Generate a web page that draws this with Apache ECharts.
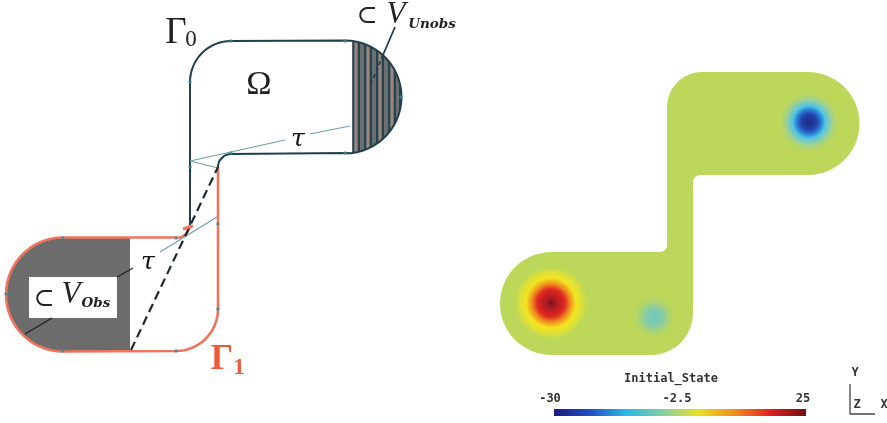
<!DOCTYPE html>
<html><head><meta charset="utf-8">
<style>html,body{margin:0;padding:0;background:#fff}#c{width:887px;height:423px;filter:blur(.6px)}</style>
<script src="https://cdn.jsdelivr.net/npm/echarts@6/dist/echarts.min.js"></script>
</head><body><div id="c"></div>
<script>
// ---------- data (picture units) ----------
const hatchDarkX = [353,359,365,371,377,383,389,395,400];
const hatchPaleX = [356,368,380,392];
const hatchCentre = [345,97], hatchR = 56.5;
const leftCentre = [63,294.5], leftR = 57;
const rightFieldCentre = [808,123.5], fieldR = 51.5;
const fieldLowCentre = [551.5,303.5];
const nodes = [[190,82],[231,41],[345,41],[401,97],[345,153],[231,153],[190,167],[218,224],[218,309],[176,351],[63,351],[6,294],[63,238],[176,238]];
const dashed = [[131,350],[218,167]];
const thinLines = [[[190,161],[285,140]],[[310,134],[350,126]],[[190,161],[218,168]],[[160,252],[217,217]]];
const blackLines = [[[117,277],[133,268]],[[25,334],[52,318]]];
const redMark = [[183,229],[193,226]];
const unobsLeader = [[395,27],[383,55]];
const unobsLeaderDash = [[383,55],[372,82]];
const triad = [[850,384],[850,414],[875,414]];
const obsBox = [[29,277],[117,277],[117,318],[29,318]];
const blobs = [
  {name:'hot', c:[551,303], r:38},
  {name:'mild', c:[654,317], r:23},
  {name:'cold', c:[809,122], r:31}
];
const colourBarExtent = [[554,409],[806,416]];
const colourBarStops = ['#1a1a80','#2050c0','#28b8e8','#80cfa8','#e8e020','#f09020','#e02020','#701010'];
const colourBarTicks = [[550,399,'-30'],[677,399,'-2.5'],[803,399,'25']];
const texts = [
  ['gamma',176,33,'Γ'],['sub',191,40,'0'],['omega',259,85,'Ω'],['tau',298,139,'τ'],['tau',148,262,'τ'],
  ['sub2',367,16,'⊂'],['vee',396,15,'V'],['low',432,24,'Unobs'],
  ['sub2',44,299,'⊂'],['vee',71,295,'V'],['low',96,303,'Obs'],
  ['red',222,360,'Γ'],['redsub',239,368,'1'],
  ['mono',671,379,'Initial_State'],['mono',855,373,'Y'],['mono',857,405,'Z'],['mono',884,405,'X']
];
// ---------- helpers ----------
const arc=(c,r,a0,a1,n=30)=>Array.from({length:n+1},(_,i)=>{const a=(a0+(a1-a0)*i/n)*Math.PI/180;return [c[0]+r*Math.cos(a),c[1]+r*Math.sin(a)];});
const DARK='#1f3f4a', RED='#f0745c', TEAL='#2f8f9f', GREEN='#bcd75a', GREY='#6c6c6c';
const textStyles={
  gamma:{fontFamily:'Liberation Serif',fontSize:37,fill:'#222'},
  sub:{fontFamily:'Liberation Serif',fontSize:23,fill:'#222'},
  omega:{fontFamily:'Liberation Serif',fontSize:34,fill:'#222'},
  tau:{fontFamily:'DejaVu Serif',fontStyle:'italic',fontSize:25,fill:'#111'},
  sub2:{fontFamily:'DejaVu Serif',fontSize:25,fill:'#222'},
  vee:{fontFamily:'Liberation Serif',fontStyle:'italic',fontSize:31,fill:'#222'},
  low:{fontFamily:'DejaVu Serif',fontStyle:'italic',fontWeight:'bold',fontSize:13.5,fill:'#222'},
  red:{fontFamily:'Liberation Serif',fontWeight:'bold',fontSize:35,fill:'#ee5a3e'},
  redsub:{fontFamily:'Liberation Serif',fontWeight:'bold',fontSize:23,fill:'#ee5a3e'},
  mono:{fontFamily:'DejaVu Sans Mono',fontSize:12,fontWeight:'bold',fill:'#333'}
};
const blobStops={
  hot:[[0,'#74141a'],[.14,'#b01a20'],[.36,'#e02822'],[.5,'#f08a20'],[.66,'#f2e420'],[.84,'#d8e03c'],[1,'rgba(188,215,90,0)']],
  mild:[[0,'#70c8b8'],[.4,'#88cca8'],[1,'rgba(188,215,90,0)']],
  cold:[[0,'#1c2a80'],[.26,'#2344ac'],[.42,'#2a8cdc'],[.52,'#50c4e4'],[.72,'#98d09c'],[1,'rgba(188,215,90,0)']]
};
// ---------- outlines ----------
const darkPath=[...arc([231,167],13,180,270,8),[345,153],...arc([345,97],56.5,90,-90),[231,41],...arc([231,82],41,270,180,16),[190,225]];
const redPath=[[218,167],[218,309],...arc([176,309],42,0,90,16),[63,351.5],...arc(leftCentre,leftR,90,270),[176,237.5],...arc([176,224],14,90,0,8)];
const leftFill=[[130,351.5],[63,351.5],...arc(leftCentre,leftR,90,270),[130,237.5]];
const ang=(x)=>Math.acos((x-hatchCentre[0])/hatchR)*180/Math.PI;
const hatchFill=arc(hatchCentre,hatchR,ang(353),-ang(353));
const fieldPath=[[700,72],[808,72],...arc(rightFieldCentre,fieldR,-90,90),[700,175],...arc([700,182],7,270,180,8),[693,313],...arc([651,313],42,0,90,16),[551.5,355],...arc(fieldLowCentre,fieldR,90,270),[660,252],...arc([660,245],7,90,0,8),[667,107],...arc([702,107],35,180,270,12)];
const vert=x=>{const d=Math.sqrt(Math.max(0,hatchR*hatchR-(x-hatchCentre[0])**2));return [[x,hatchCentre[1]-d],[x,hatchCentre[1]+d]];};

const poly=(pts,fill,z)=>({type:'custom',coordinateSystem:'cartesian2d',z,silent:true,data:[[0,0]],clip:false,
  renderItem:(p,api)=>({type:'polygon',shape:{points:pts.map(q=>api.coord(q))},style:{fill}})});
const line=(pts,color,width,z,type)=>({type:'line',data:pts,symbol:'none',z,silent:true,smooth:false,clip:false,lineStyle:{color,width,type:type||'solid',cap:'butt'}});

const series=[
  poly(leftFill,GREY,2),
  poly(hatchFill,'#6a7072',2),
  ...hatchDarkX.map(x=>line(vert(x),'#16333e',1.5,3)),
  ...hatchPaleX.map(x=>line(vert(x),'#d09a84',1,3)),
  poly(obsBox,'#fff',4),
  line(redPath,RED,2.6,5),
  line(darkPath,DARK,2,6),
  line(dashed,'#1d2a30',2.2,7,[9,5]),
  ...thinLines.map(l=>line(l,'#6f9fb0',1.2,6)),
  ...blackLines.map(l=>line(l,'#222',1.3,6)),
  line(redMark,RED,3,7),
  line(unobsLeader,'#1f3f4a',1.8,6),
  line(unobsLeaderDash,'#1f3f4a',1.8,6,[4,3]),
  line(triad,'#444',1.3,6),
  {type:'scatter',data:nodes,symbolSize:3.5,silent:true,z:8,itemStyle:{color:TEAL}},
  poly(fieldPath,GREEN,2),
  {type:'custom',coordinateSystem:'cartesian2d',z:3,silent:true,data:blobs.map(b=>[b.c[0],b.c[1],b.r,b.name]),
   encode:{x:0,y:1},
   renderItem:(p,api)=>{const b=blobs[p.dataIndex],c=api.coord(b.c),r=api.size([b.r,0])[0];
     return {type:'circle',shape:{cx:c[0],cy:c[1],r},style:{fill:{type:'radial',x:.5,y:.5,r:.5,colorStops:blobStops[b.name].map(s=>({offset:s[0],color:s[1]}))}}};}},
  {type:'custom',coordinateSystem:'cartesian2d',z:3,silent:true,data:[[0,0]],clip:false,
   renderItem:(p,api)=>{const a=api.coord(colourBarExtent[0]),b=api.coord(colourBarExtent[1]);
     return {type:'rect',shape:{x:a[0],y:a[1],width:b[0]-a[0],height:b[1]-a[1]},
       style:{fill:{type:'linear',x:0,y:0,x2:1,y2:0,colorStops:colourBarStops.map((c,i)=>({offset:i/(colourBarStops.length-1),color:c}))}}};}},
  {type:'custom',coordinateSystem:'cartesian2d',z:10,silent:true,clip:false,data:[...texts.map(t=>[t[1],t[2]]),...colourBarTicks.map(t=>[t[0],t[1]])],
   renderItem:(p,api)=>{const i=p.dataIndex,n=texts.length;
     const t=i<n?texts[i]:['mono',colourBarTicks[i-n][0],colourBarTicks[i-n][1],colourBarTicks[i-n][2]];
     const c=api.coord([t[1],t[2]]);
     return {type:'text',x:c[0],y:c[1],style:{text:t[3],align:'center',verticalAlign:'middle',...textStyles[t[0]]}};}}
];
const chart=echarts.init(document.getElementById('c'),null,{renderer:'canvas'});
chart.setOption({animation:false,backgroundColor:'#fff',
  grid:{left:0,right:0,top:0,bottom:0},
  xAxis:{type:'value',min:0,max:887,show:false},
  yAxis:{type:'value',min:0,max:423,inverse:true,show:false},
  series});
</script></body></html>
